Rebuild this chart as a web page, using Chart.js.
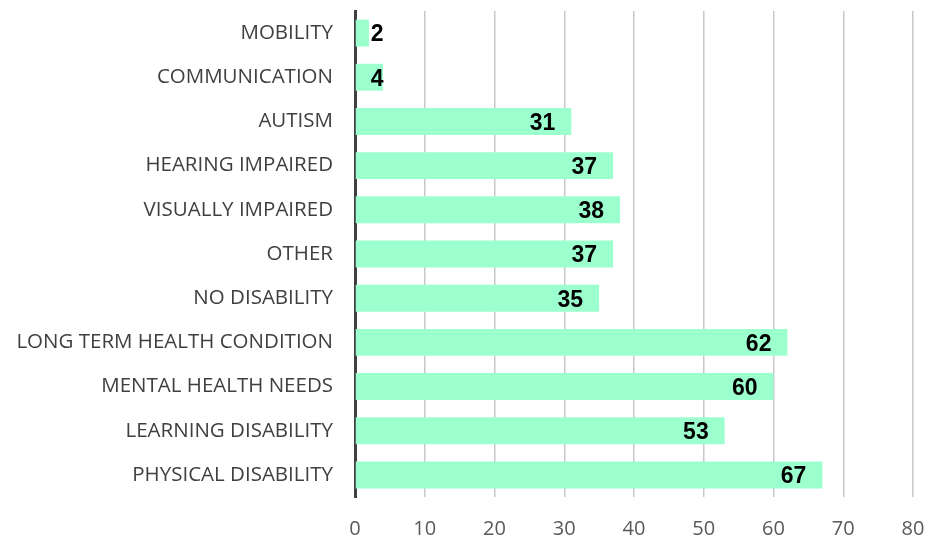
<!DOCTYPE html>
<html>
<head>
<meta charset="utf-8">
<script src="https://cdn.jsdelivr.net/npm/chart.js@4.4.1/dist/chart.umd.min.js"></script>
<style>
  html, body { margin: 0; padding: 0; background: #fff; }
  #wrap { width: 930px; height: 537px; position: relative; }
</style>
</head>
<body>
<div id="wrap"><canvas id="c"></canvas></div>
<script>
// categories top to bottom
const categories = [
  'MOBILITY', 'COMMUNICATION', 'AUTISM', 'HEARING IMPAIRED', 'VISUALLY IMPAIRED',
  'OTHER', 'NO DISABILITY', 'LONG TERM HEALTH CONDITION', 'MENTAL HEALTH NEEDS',
  'LEARNING DISABILITY', 'PHYSICAL DISABILITY'
];
const counts = [2, 4, 31, 37, 38, 37, 35, 62, 60, 53, 67];
const xTicks = [0, 10, 20, 30, 40, 50, 60, 70, 80];

// value labels, drawn near the bar end but never left of the axis
const valueLabels = {
  id: 'valueLabels',
  afterDatasetsDraw(chart) {
    const ctx = chart.ctx;
    const meta = chart.getDatasetMeta(0);
    ctx.save();
    ctx.font = 'bold 23px "Liberation Sans", Arial, sans-serif';
    ctx.fillStyle = '#000';
    ctx.textAlign = 'right';
    ctx.textBaseline = 'middle';
    meta.data.forEach((bar, i) => {
      const txt = String(counts[i]);
      const w = ctx.measureText(txt).width;
      const right = Math.max(bar.x - 16, bar.base + 15 + w);
      ctx.fillText(txt, right, bar.y + 2);
    });
    ctx.restore();
  }
};

new Chart(document.getElementById('c'), {
  type: 'bar',
  data: {
    labels: categories,
    datasets: [{
      data: counts,
      backgroundColor: '#9CFFCE',
      borderWidth: 0,
      barPercentage: 0.61,
      categoryPercentage: 1
    }]
  },
  options: {
    indexAxis: 'y',
    responsive: true,
    maintainAspectRatio: false,
    animation: false,
    layout: { padding: { top: 11, right: 17, bottom: 0, left: 0 } },
    plugins: { legend: { display: false }, tooltip: { enabled: false } },
    scales: {
      x: {
        min: 0, max: 80,
        afterBuildTicks: s => { s.ticks = xTicks.map(v => ({ value: v })); },
        afterFit: s => { s.height = 40; s.paddingLeft = 0; s.paddingRight = 0; },
        grid: { color: '#c8c8c8', lineWidth: 1.5, drawTicks: false },
        border: { display: false },
        ticks: { color: '#595959', font: { family: '"Open Sans", sans-serif', size: 20 }, padding: 20, maxRotation: 0 }
      },
      y: {
        afterFit: s => { s.width = 355; s.paddingTop = 0; s.paddingBottom = 0; },
        grid: { display: false, drawTicks: false },
        border: { color: '#404040', width: 3 },
        ticks: { color: '#404040', font: { family: '"Open Sans", sans-serif', size: 20.5 }, padding: 22 }
      }
    }
  },
  plugins: [valueLabels]
});
</script>
</body>
</html>
